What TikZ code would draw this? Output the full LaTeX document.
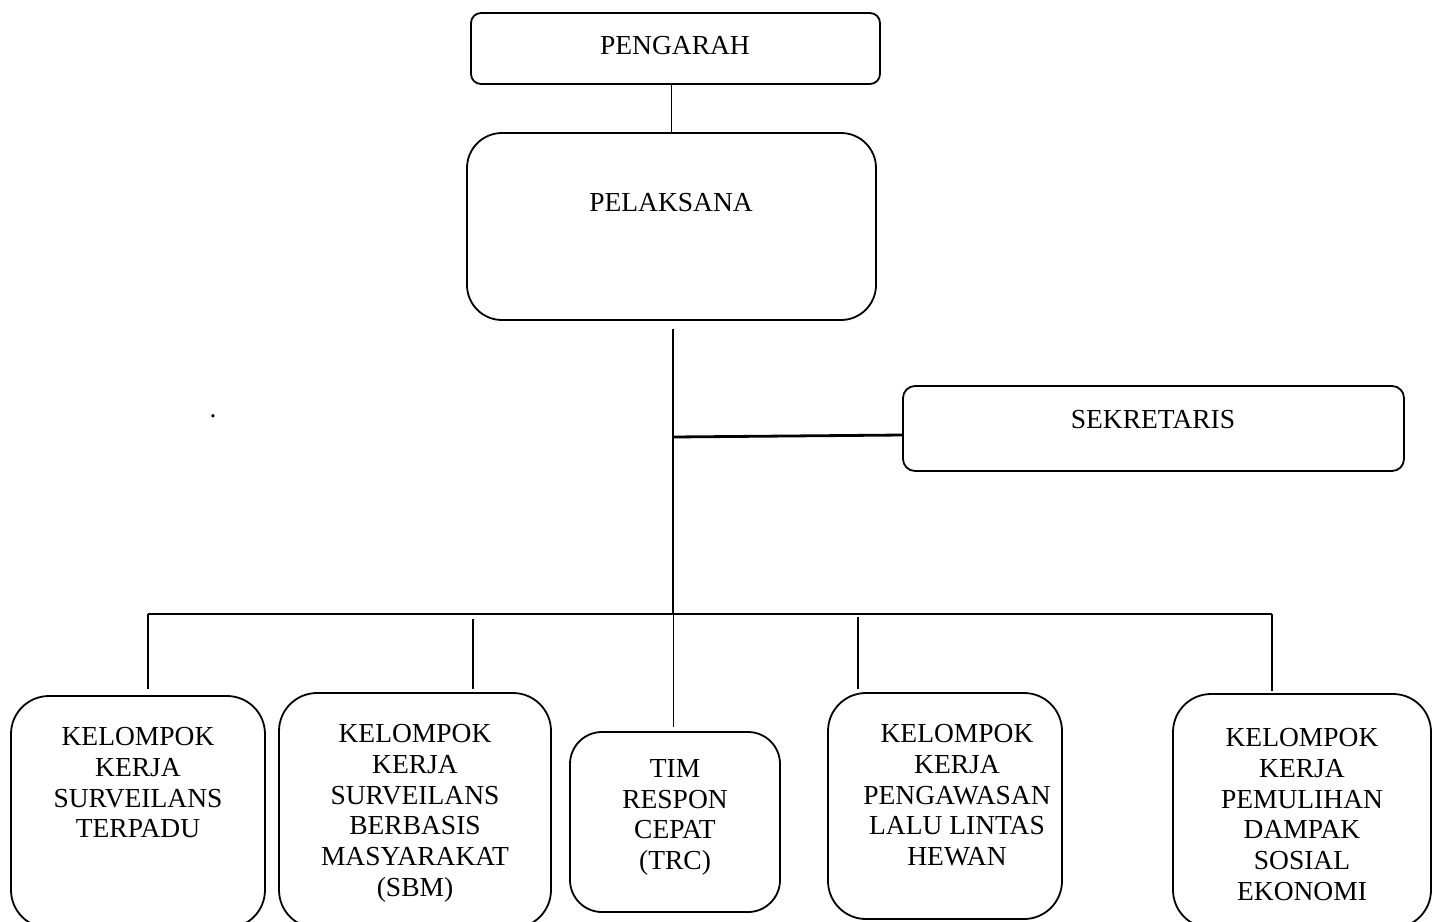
\documentclass[tikz,border=0pt]{standalone}
\usepackage{fontspec}
\setmainfont{Liberation Serif}
\begin{document}
\begin{tikzpicture}[x=1pt,y=-1pt,
  box/.style={draw,line width=1.8pt,inner sep=0pt},
  lbl/.style={font=\fontsize{27.5}{30.8}\selectfont,align=center,inner sep=0pt,anchor=north},
  conn/.style={line width=1.8pt},
  thick conn/.style={line width=2.8pt},
  thin conn/.style={line width=1pt}]
\useasboundingbox (0,0) rectangle (1434,921);
\clip (0,0) rectangle (1434,921);

% boxes
\node[box,rounded corners=10pt,minimum width=409pt,minimum height=71pt] (peng) at (675.5,48.5) {};
\node[box,rounded corners=35pt,minimum width=409pt,minimum height=187pt] (pela) at (671.5,226.5) {};
\node[box,rounded corners=12pt,minimum width=501pt,minimum height=85pt] (sek) at (1153.5,428.5) {};
\node[box,rounded corners=38pt,minimum width=254pt,minimum height=232pt] (b1) at (138,812) {};
\node[box,rounded corners=38pt,minimum width=272pt,minimum height=235pt] (b2) at (415,810.5) {};
\node[box,rounded corners=32pt,minimum width=210pt,minimum height=180pt] (b3) at (675,822) {};
\node[box,rounded corners=38pt,minimum width=234pt,minimum height=226pt] (b4) at (945,806) {};
\node[box,rounded corners=38pt,minimum width=258pt,minimum height=234pt] (b5) at (1302,811) {};

% texts
\node[lbl] (tpeng) at (675,36) {PENGARAH};
\node[lbl] (tpela) at (671,193) {PELAKSANA};
\node[lbl] (tsek) at (1153,410) {SEKRETARIS};
\node[lbl] (t1) at (138,727) {KELOMPOK\\KERJA\\SURVEILANS\\TERPADU};
\node[lbl] (t2) at (415,724) {KELOMPOK\\KERJA\\SURVEILANS\\BERBASIS\\MASYARAKAT\\(SBM)};
\node[lbl] (t3) at (675,759) {TIM\\RESPON\\CEPAT\\(TRC)};
\node[lbl] (t4) at (957,724) {KELOMPOK\\KERJA\\PENGAWASAN\\LALU LINTAS\\HEWAN};
\node[lbl] (t5) at (1302,728) {KELOMPOK\\KERJA\\PEMULIHAN\\DAMPAK\\SOSIAL\\EKONOMI};
\node[font=\fontsize{27.5}{30.8}\selectfont,inner sep=0pt,anchor=base] (dot) at (213,417) {.};

% connector points
\coordinate (ptop) at (673,329);
\coordinate (sj) at (673,437);
\coordinate (sjE) at (903,435);
\coordinate (bus) at (673,614);
\coordinate (busL) at (148,614);
\coordinate (busR) at (1272,614);
\coordinate (d2t) at (473,619);
\coordinate (d4t) at (858,617);

% connectors
\draw[conn] (pela.north) -- (pela.north |- peng.south);
\draw[thick conn] (ptop) -- (bus);
\draw[thick conn] (sj) -- (sjE);
\draw[conn] (busL) -- (busR);
\draw[conn] (busL) -- ([yshift=6pt]b1.north -| busL);
\draw[conn] (d2t) -- ([yshift=3pt]b2.north -| d2t);
\draw[thin conn] (bus) -- ([yshift=4pt]b3.north -| bus);
\draw[conn] (d4t) -- ([yshift=3pt]b4.north -| d4t);
\draw[conn] (busR) -- ([yshift=2pt]b5.north -| busR);
\end{tikzpicture}
\end{document}
